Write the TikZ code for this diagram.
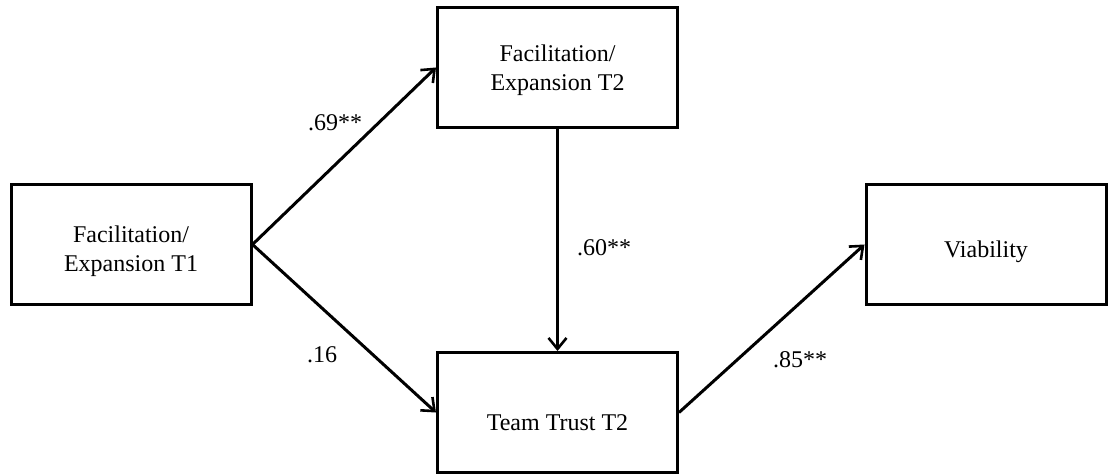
\documentclass[tikz,border=0pt]{standalone}
\usepackage{fontspec}
\setmainfont{Liberation Serif}
\usetikzlibrary{arrows.meta}
\begin{document}
\begin{tikzpicture}[x=0.5pt,y=-0.5pt,
  varbox/.style={draw, line width=1.5pt, minimum width=120pt, minimum height=60pt,
    inner sep=0pt},
  boxtext/.style={align=center, font=\fontsize{12}{14.5}\selectfont, inner sep=0pt, yshift=-3.5pt},
  path/.style={line width=1.5pt, -{Straight Barb[length=5.5pt,width=9pt,line width=1.3pt]}},
  coef/.style={font=\fontsize{12}{14.5}\selectfont, inner sep=0pt}]
  \useasboundingbox (0,0) rectangle (1110,476);
  % variables
  \node[varbox, label={[boxtext]center:{Facilitation/\\Expansion T1}}] (fe1) at (131,244.5) {};
  \node[varbox, label={[boxtext, yshift=2pt]center:{Facilitation/\\Expansion T2}}] (fe2) at (557.5,67.5) {};
  \node[varbox, label={[boxtext, yshift=-1.5pt]center:{Team Trust T2}}] (tt2) at (557.5,412.5) {};
  \node[varbox, label={[boxtext]center:{Viability}}] (via) at (986,244.5) {};
  % structural paths
  \draw[path] (fe1.east) -- (fe2.west);
  \draw[path] (fe1.east) -- (tt2.west);
  \draw[path] (fe2.south) -- (tt2.north);
  \draw[path] (tt2.east) -- (via.west);
  % path coefficients
  \node[coef] (c1) at (335,123) {.69**};
  \node[coef] (c2) at (322,355) {.16};
  \node[coef] (c3) at (604,248) {.60**};
  \node[coef] (c4) at (800,360) {.85**};
\end{tikzpicture}
\end{document}
